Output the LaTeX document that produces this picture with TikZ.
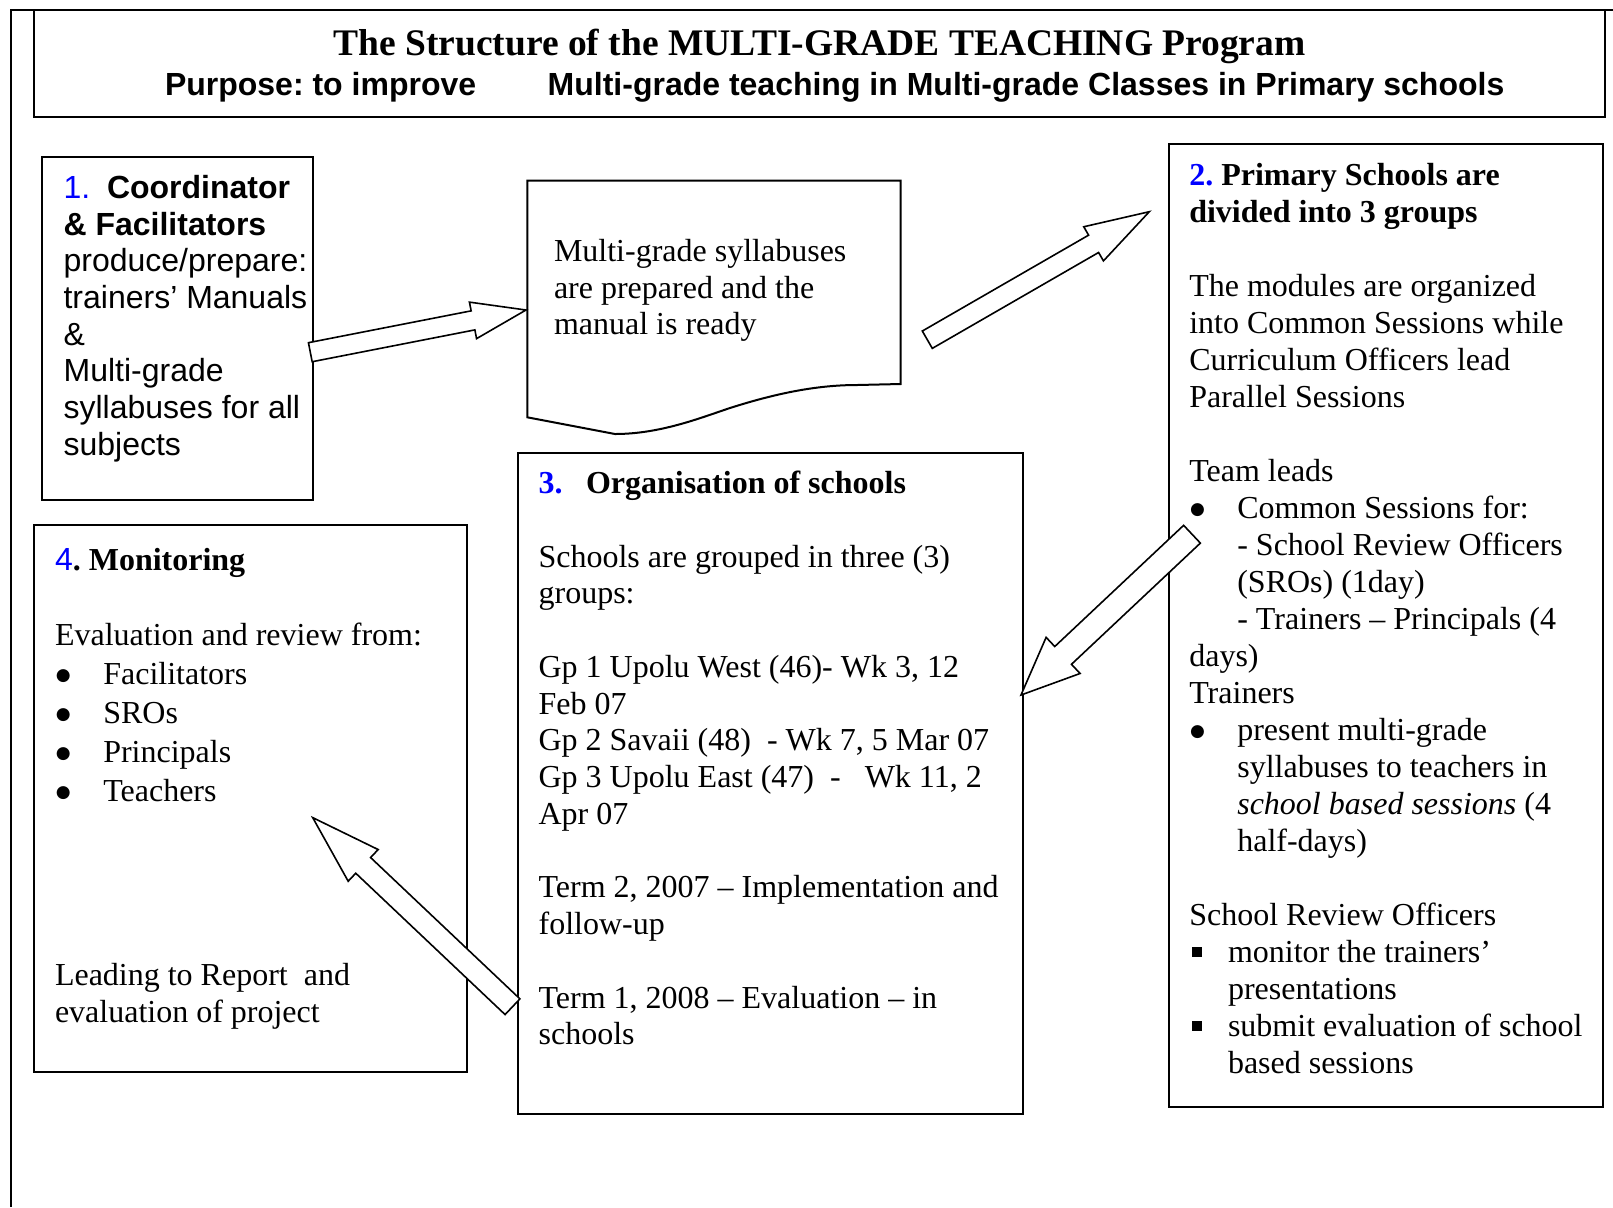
\documentclass[tikz,border=0pt]{standalone}
\usepackage{fontspec}
\setmainfont{Liberation Serif}
\newfontfamily\arial{Liberation Sans}
\newfontfamily\dejavu{DejaVu Sans}
\usetikzlibrary{calc}
\definecolor{numblue}{RGB}{0,0,255}
\frenchspacing
\newcommand\nsp{\spaceskip=0pt\xspaceskip=0pt\relax}
\newcommand\bul[1]{\makebox[#1][l]{\hspace{0.4pt}\raisebox{1.9pt}{\dejavu\fontsize{8.5}{8.5}\selectfont ●}}}
\newcommand\sqb[1]{\makebox[#1][l]{\hspace{1.35pt}\rule[2.7pt]{5pt}{5pt}}}
% #1 prefix, #2 tail, #3 tip, #4 half shaft, #5 half head, #6 head length
\newcommand\blockarrow[6]{%
  \coordinate (#1-h) at ($(#3)!#6!(#2)$);
  \draw[barrow] ($(#2)!#4!90:(#3)$) -- ($(#1-h)!#4!90:(#3)$) -- ($(#1-h)!#5!90:(#3)$) -- (#3)
    -- ($(#1-h)!#5!-90:(#3)$) -- ($(#1-h)!#4!-90:(#3)$) -- ($(#2)!#4!-90:(#3)$) -- cycle;
}
\begin{document}
\begin{tikzpicture}[x=0.5pt,y=-0.5pt,
  frame/.style={line width=1pt},
  box/.style={draw, line width=1pt, inner sep=0pt, outer sep=0pt},
  barrow/.style={draw, fill=white, line width=0.8pt, line join=miter},
  txt/.style={anchor=north west, inner sep=0pt, outer sep=0pt, align=left, text width=#1},
]
\useasboundingbox (0,0) rectangle (1613,1207);
% outer frame
\draw[frame] (11,1207) -- (11,10) -- (1613,10);

% boxes
\node[box, minimum width=785.5pt, minimum height=53.5pt] (title) at (819.5,63.5) {};
\node[box, minimum width=135.35pt, minimum height=171.65pt] (b1) at (177.35,328.35) {};
\node[box, minimum width=217.25pt, minimum height=481.5pt] (b2) at (1385.75,625.5) {};
\node[box, minimum width=252.5pt, minimum height=330.4pt] (b3) at (770.2,783.1) {};
\node[box, minimum width=216.2pt, minimum height=273.7pt] (b4) at (250.5,798.3) {};
% document shape
\draw[frame] (527.3,180.7) -- (900.7,180.7) -- (900.7,384) -- (857,385)
  .. controls (820,385) and (780,392) .. (730,408)
  .. controls (700,418) and (660,434) .. (615,434) -- (527.3,417.3) -- cycle;

% title texts
\node[anchor=base, inner sep=0pt, font=\bfseries\fontsize{18.75}{20}\selectfont] (tline1) at (819.5,55)
  {The Structure of the MULTI-GRADE TEACHING Program};
\node[anchor=base west, inner sep=0pt, font=\arial\bfseries\fontsize{16}{18}\selectfont] (tline2a) at (164.6,95)
  {Purpose: to improve};
\node[anchor=base west, inner sep=0pt, font=\arial\bfseries\fontsize{16}{18}\selectfont] (tline2b) at (547.3,95)
  {Multi-grade teaching in Multi-grade Classes in Primary schools};

% box 1 text
\node[txt=150pt, font=\arial\fontsize{16}{18.35}\selectfont] (t1) at (63.6,172.8)
  {\nsp\strut\makebox[21.7pt][l]{\textcolor{numblue}{1.}}\textbf{Coordinator}\\
   \textbf{\& Facilitators}\\
   produce/prepare:\\
   trainers’ Manuals\\
   \&\\
   Multi-grade\\
   syllabuses for all\\
   subjects};

% document text
\node[txt=200pt, font=\fontsize{16}{18.25}\selectfont] (tdoc) at (554,236)
  {\nsp\strut Multi-grade syllabuses\\ are prepared and the\\ manual is ready};

% box 2 text
\node[txt=215pt, font=\fontsize{16}{18.5}\selectfont] (t2) at (1189.3,159.4)
  {\nsp\strut\textbf{\textcolor{numblue}{2.} Primary Schools are}\\
   \textbf{divided into 3 groups}\\[18.5pt]
   The modules are organized\\
   into Common Sessions while\\
   Curriculum Officers lead\\
   Parallel Sessions\\[18.5pt]
   Team leads\\
   \bul{24pt}Common Sessions for:\\
   \hspace*{24pt}- School Review Officers\\
   \hspace*{24pt}(SROs) (1day)\\
   \hspace*{24pt}- Trainers – Principals (4\\
   days)\\
   Trainers\\
   \bul{24pt}present multi-grade\\
   \hspace*{24pt}syllabuses to teachers in\\
   \hspace*{24pt}\textit{school based sessions} (4\\
   \hspace*{24pt}half-days)\\[18.5pt]
   School Review Officers\\
   \sqb{19.35pt}monitor the trainers’\\
   \hspace*{19.35pt}presentations\\
   \sqb{19.35pt}submit evaluation of school\\
   \hspace*{19.35pt}based sessions};

% box 3 text
\node[txt=250pt, font=\fontsize{16}{18.375}\selectfont] (t3) at (538.6,467.8)
  {\nsp\strut\makebox[23.7pt][l]{\textcolor{numblue}{\textbf{3.}}}\textbf{Organisation of schools}\\[18.375pt]
   Schools are grouped in three (3)\\
   groups:\\[18.375pt]
   Gp 1 Upolu West (46)- Wk 3, 12\\
   Feb 07\\
   Gp 2 Savaii (48)\ \ - Wk 7, 5 Mar 07\\
   Gp 3 Upolu East (47)\ \ -\ \ \ Wk 11, 2\\
   Apr 07\\[18.375pt]
   Term 2, 2007 – Implementation and\\
   follow-up\\[18.375pt]
   Term 1, 2008 – Evaluation – in\\
   schools};

% box 4 text
\node[txt=210pt, font=\fontsize{16}{18.4}\selectfont] (t4) at (55,544.3)
  {\nsp\strut{\arial\textcolor{numblue}{4}}\textbf{. Monitoring}\\[19.15pt]
   Evaluation and review from:\\[1.15pt]
   \bul{24.15pt}Facilitators\\[1.15pt]
   \bul{24.15pt}SROs\\[1.15pt]
   \bul{24.15pt}Principals\\[1.15pt]
   \bul{24.15pt}Teachers\\[73.7pt]
   Leading to Report\ \ and\\
   evaluation of project};

% block arrows
\coordinate (aT) at (310.3,352.2); \coordinate (aP) at (526,310);
\coordinate (bT) at (927.3,339.7); \coordinate (bP) at (1149.3,211.7);
\coordinate (cT) at (1192,534.2);  \coordinate (cP) at (1021,695);
\coordinate (dT) at (512.5,1006.7); \coordinate (dP) at (312.7,817.6);
\blockarrow{a}{aT}{aP}{4.85pt}{9.3pt}{27pt}
\blockarrow{b}{bT}{bP}{5pt}{9.85pt}{32.15pt}
\blockarrow{c}{cT}{cP}{6.1pt}{12.4pt}{28.9pt}
\blockarrow{d}{dT}{dP}{5.4pt}{10.9pt}{34.75pt}
\end{tikzpicture}
\end{document}
